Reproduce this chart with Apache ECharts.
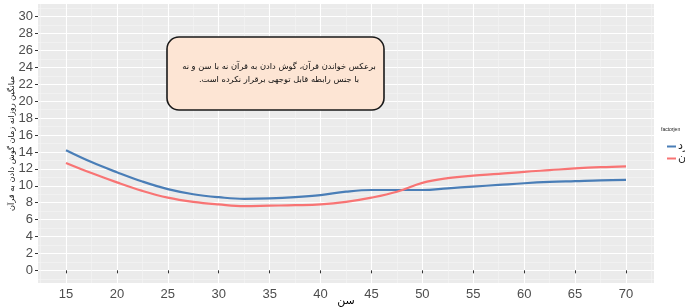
<!DOCTYPE html>
<html>
<head>
<meta charset="utf-8">
<script src="https://cdn.jsdelivr.net/npm/echarts@6/dist/echarts.min.js"></script>
<style>
  html, body { margin: 0; padding: 0; background: #fff; }
  #chart { width: 685px; height: 307px; direction: rtl; }
</style>
</head>
<body>
<div id="chart"></div>
<script>
// سن (age) and smoothed mean daily listening time per gender
const ages = [15, 17.5, 20, 22.5, 25, 27.5, 30, 32.5, 35, 37.5, 40, 42.5, 45, 47.5, 50, 52.5, 55, 57.5, 60, 62.5, 65, 67.5, 70];
const maleVals = [14.2, 12.8, 11.6, 10.5, 9.6, 9.0, 8.65, 8.45, 8.5, 8.65, 8.9, 9.3, 9.5, 9.5, 9.5, 9.7, 9.9, 10.1, 10.3, 10.45, 10.55, 10.65, 10.7];
const femaleVals = [12.7, 11.5, 10.4, 9.4, 8.6, 8.1, 7.8, 7.6, 7.65, 7.7, 7.8, 8.1, 8.6, 9.3, 10.35, 10.9, 11.2, 11.4, 11.65, 11.85, 12.05, 12.2, 12.3];

const xTicks = [15, 20, 25, 30, 35, 40, 45, 50, 55, 60, 65, 70];
const xMinor = [12.5, 17.5, 22.5, 27.5, 32.5, 37.5, 42.5, 47.5, 52.5, 57.5, 62.5, 67.5, 72.5];
const yTicks = [0, 2, 4, 6, 8, 10, 12, 14, 16, 18, 20, 22, 24, 26, 28, 30];
const yMinor = [-1, 1, 3, 5, 7, 9, 11, 13, 15, 17, 19, 21, 23, 25, 27, 29, 31];

const legendNames = ['مرد', 'زن'];
const note = ['برعکس خواندن قرآن، گوش دادن به قرآن نه با سن و نه', 'با جنس رابطه قابل توجهی برقرار نکرده است.'];

const labelColor = '#4D4D4D';
const font = 'Liberation Sans, Arial, sans-serif';
const arabicFont = 'DejaVu Sans, sans-serif';

const chart = echarts.init(document.getElementById('chart'), null, { renderer: 'canvas' });

const majorAxis = (ticks) => ({
  type: 'value',
  axisLine: { show: false },
  axisTick: { show: true, length: 3, customValues: ticks, lineStyle: { color: '#333333', width: 1 } },
  axisLabel: { customValues: ticks, color: labelColor, fontSize: 13, fontFamily: font, margin: 5 },
  splitLine: { show: true, lineStyle: { color: '#FFFFFF', width: 1.1 } }
});

const minorAxis = (ticks) => ({
  type: 'value',
  axisLine: { show: false },
  axisTick: { show: false, customValues: ticks },
  axisLabel: { show: false, customValues: ticks },
  splitLine: { show: true, lineStyle: { color: '#F5F5F5', width: 0.6 } }
});

const option = {
  animation: false,
  backgroundColor: '#FFFFFF',
  grid: {
    left: 38, right: 31, top: 4, bottom: 24,
    outerBoundsMode: 'none',
    containLabel: false,
    show: true, backgroundColor: '#EBEBEB', borderWidth: 0
  },
  legend: {
    data: legendNames,
    orient: 'vertical',
    left: 662,
    top: 136,
    itemWidth: 9,
    itemHeight: 2,
    itemGap: 1,
    icon: 'rect',
    textStyle: { fontSize: 11, lineHeight: 10, color: '#222', fontFamily: arabicFont, padding: [0, 0, 0, -3] }
  },
  xAxis: [
    Object.assign(majorAxis(xTicks), {
      min: 12.25, max: 72.75,
      name: 'سن', nameLocation: 'middle', nameGap: 13, nameMoveOverlap: false,
      nameTextStyle: { fontSize: 11, color: '#000', fontFamily: arabicFont }
    }),
    Object.assign(minorAxis(xMinor), { min: 12.25, max: 72.75, position: 'bottom' })
  ],
  yAxis: [
    Object.assign(majorAxis(yTicks), {
      min: -1.5, max: 31.5,
      name: 'میانگین روزانه زمان گوش دادن به قرآن', nameLocation: 'middle', nameGap: 22, nameRotate: 90,
      nameMoveOverlap: false,
      nameTextStyle: { fontSize: 8.2, color: '#111', fontFamily: arabicFont }
    }),
    Object.assign(minorAxis(yMinor), { min: -1.5, max: 31.5, position: 'left' })
  ],
  graphic: [
    {
      type: 'rect',
      shape: { x: 167, y: 37, width: 217, height: 73, r: 12 },
      style: { fill: '#FDE5D4', stroke: '#1A1A1A', lineWidth: 1.6 },
      z: 10
    },
    {
      type: 'text',
      x: 279, y: 67,
      style: { text: note[0], fill: '#111', font: '8.3px ' + arabicFont, textAlign: 'center', textVerticalAlign: 'middle' },
      z: 11
    },
    {
      type: 'text',
      x: 279, y: 80,
      style: { text: note[1], fill: '#111', font: '8.3px ' + arabicFont, textAlign: 'center', textVerticalAlign: 'middle' },
      z: 11
    },
    {
      type: 'text',
      x: 661, y: 130,
      style: { text: 'factorjen', fill: '#222', font: '5px ' + font, textVerticalAlign: 'middle' },
      z: 11
    }
  ],
  series: [
    {
      name: legendNames[0],
      type: 'line',
      smooth: 0.4,
      showSymbol: false,
      color: '#4A7EB7',
      lineStyle: { width: 2.2 },
      data: ages.map((a, i) => [a, maleVals[i]])
    },
    {
      name: legendNames[1],
      type: 'line',
      smooth: 0.4,
      showSymbol: false,
      color: '#F87474',
      lineStyle: { width: 2.2 },
      data: ages.map((a, i) => [a, femaleVals[i]])
    }
  ]
};

chart.setOption(option);
</script>
</body>
</html>
